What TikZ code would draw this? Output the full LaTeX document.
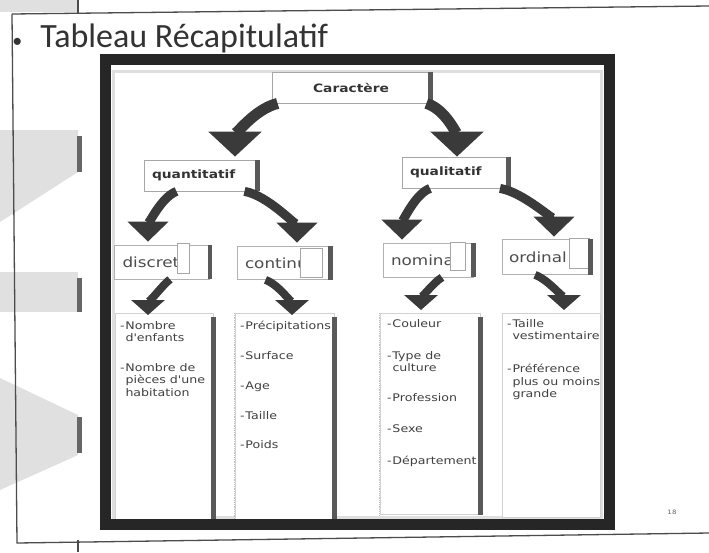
\documentclass[tikz,border=0pt]{standalone}
\usepackage{fontspec}
\setmainfont{DejaVu Sans}
\newfontfamily\titlefont{Carlito}
\newfontfamily\scanfont[FakeStretch=1.2]{DejaVu Sans}
\usetikzlibrary{positioning,arrows.meta}
\definecolor{slidegray}{HTML}{E0E0E0}
\definecolor{arrowgray}{HTML}{3A3A3A}
\newcommand{\dashit}{\makebox[5.5pt][l]{-}}
\newcommand{\indentit}{\hspace*{5.5pt}}
\begin{document}
\begin{tikzpicture}[x=1pt, y=-1pt, thick]
    \tikzstyle{topbox} = [draw=gray!70, fill=white, minimum height=31pt, inner xsep=8pt, font=\scanfont\bfseries\fontsize{11.5}{13}\selectfont, text=black!80]
    \tikzstyle{kind} = [draw=gray!60, fill=white, align=left, inner xsep=8pt, font=\scanfont\fontsize{14}{16}\selectfont, text=black!70]
    \tikzstyle{cursor} = [draw=gray!70, fill=white, inner sep=0pt]
    \tikzstyle{panel} = [draw=gray!35, fill=white, anchor=north]
    \tikzstyle{items} = [anchor=north west, align=left, inner sep=0pt, font=\scanfont\fontsize{10.5}{12.5}\selectfont, text=black!75]
    \tikzstyle{shade} = [line width=4.5pt, draw=black!65]
    \tikzstyle{bigarrow} = [line width=11pt, draw=arrowgray, -{Triangle[length=25pt,width=52pt]}]
    \tikzstyle{midarrow} = [line width=9pt, draw=arrowgray, -{Triangle[length=20pt,width=40pt]}]
    \tikzstyle{lowarrow} = [line width=8pt, draw=arrowgray, -{Triangle[length=15pt,width=33pt]}]

    \useasboundingbox (0,0) rectangle (709,552);
    \fill[white] (0,0) rectangle (709,552);

    % slide background
    \fill[slidegray] (0,0) rectangle (78,12);
    \fill[slidegray] (0,130) -- (78,130) -- (78,172) -- (0,222) -- cycle;
    \fill[slidegray] (0,272) rectangle (78,312);
    \fill[slidegray] (0,378) -- (78,415) -- (78,455) -- (0,490) -- cycle;
    \fill[black!60] (77,136) rectangle (82,172);
    \fill[black!60] (77,278) rectangle (82,312);
    \fill[black!60] (77,417) rectangle (82,453);
    \draw[black!70, line width=1.3pt] (78,0) -- (78,13);
    \draw[black!70, line width=1.3pt] (12,14) -- (709,6);
    \draw[black!70, line width=1.3pt] (12,14) -- (17,543) -- (709,533);
    \draw[black!70, line width=1.3pt] (78,540) -- (78,552);

    \node[anchor=base west, inner sep=0pt, text=black!80, font=\titlefont\fontsize{34}{40}\selectfont] (title) at (12,47) {{\fontsize{20}{20}\selectfont •}\hspace{18pt}Tableau Récapitulatif};
    \node[text=black!60, font=\scanfont\fontsize{6}{7}\selectfont] (page) at (672,512) {18};

    \draw[gray!25, line width=3pt] (113,71) rectangle (601,517);

    \node[topbox, minimum width=158pt] (car) at (351,87.5) {Caractère};
    \node[topbox, minimum width=113pt, text width=97pt, align=left] (quant) at (200.5,175.5) {quantitatif};
    \node[topbox, minimum width=106pt, text width=90pt, align=left] (qual) at (455,172.5) {qualitatif};

    \node[kind, minimum width=95pt, minimum height=34pt, text width=79pt] (disc) at (162,262) {discret};
    \node[kind, minimum width=93pt, minimum height=33pt, text width=77pt] (cont) at (283.5,263) {continu};
    \node[kind, minimum width=90pt, minimum height=34pt, text width=74pt] (nomi) at (428,260) {nominal};
    \node[kind, minimum width=88pt, minimum height=35pt, text width=74pt, inner xsep=6pt] (ordi) at (546,257) {ordinal};
    \node[cursor, minimum width=12pt, minimum height=30pt, left=20pt of disc.east, yshift=4pt] (disc-c) {};
    \node[cursor, minimum width=22pt, minimum height=29pt, left=8pt of cont.east] (cont-c) {};
    \node[cursor, minimum width=15pt, minimum height=28pt, left=8pt of nomi.east, yshift=4pt] (nomi-c) {};
    \node[cursor, minimum width=20pt, minimum height=30pt, left=1pt of ordi.east, yshift=4pt] (ordi-c) {};

    \node[panel, minimum width=98pt, minimum height=207pt] (col1) at (164,313) {};
    \node[panel, minimum width=99pt, minimum height=206pt] (col2) at (284.5,313) {};
    \node[panel, minimum width=100pt, minimum height=201pt] (col3) at (430,313) {};
    \node[panel, minimum width=98pt, minimum height=204pt] (col4) at (551,313) {};
    \draw[gray!50, densely dotted] (col2.north west) -- (col2.south west);
    \draw[gray!50, densely dotted] (col3.north west) -- (col3.south west);

    \node[items] (list1) at ([xshift=5pt, yshift=-8pt]col1.north west) {\dashit Nombre\\ \indentit d'enfants\\[17pt] \dashit Nombre de\\ \indentit pièces d'une\\ \indentit habitation};
    \node[items] (list2) at ([xshift=5pt, yshift=-8pt]col2.north west) {\dashit Précipitations\\[17.5pt] \dashit Surface\\[17.5pt] \dashit Age\\[17pt] \dashit Taille\\[17pt] \dashit Poids};
    \node[items] (list3) at ([xshift=7pt, yshift=-6pt]col3.north west) {\dashit Couleur\\[19.5pt] \dashit Type de\\ \indentit culture\\[17.5pt] \dashit Profession\\[18.5pt] \dashit Sexe\\[19.5pt] \dashit Département};
    \node[items] (list4) at ([xshift=5pt, yshift=-6pt]col4.north west) {\dashit Taille\\ \indentit vestimentaire\\[20.5pt] \dashit Préférence\\ \indentit plus ou moins\\ \indentit grande};

    \draw[shade] (car.north east) -- (car.south east);
    \draw[shade] (quant.north east) -- (quant.south east);
    \draw[shade] (qual.north east) -- (qual.south east);
    \draw[shade] (disc.north east) -- (disc.south east);
    \draw[shade] (cont.north east) -- (cont.south east);
    \draw[shade] (nomi.north east) -- (nomi.south east);
    \draw[shade] (ordi.north east) -- (ordi.south east);
    \draw[shade] ([yshift=-4pt]col1.north east) -- (col1.south east);
    \draw[shade] ([yshift=-4pt]col2.north east) -- (col2.south east);
    \draw[shade] ([yshift=-4pt]col3.north east) -- (col3.south east);

    \draw[bigarrow] ([xshift=6pt]car.south west) .. controls +(-24,6) and +(0,-20) .. ([xshift=34.5pt, yshift=3pt]quant.north);
    \draw[bigarrow] ([xshift=-4pt]car.south east) .. controls +(20,6) and +(0,-20) .. ([xshift=2pt]qual.north);
    \draw[midarrow] ([xshift=-24pt]quant.south) .. controls +(-16,6) and +(0,-15) .. ([xshift=-14pt, yshift=3pt]disc.north);
    \draw[midarrow] ([xshift=44pt]quant.south) .. controls +(24,4) and +(0,-15) .. ([xshift=13.5pt, yshift=3.5pt]cont.north);
    \draw[midarrow] ([xshift=-25pt]qual.south) .. controls +(-16,6) and +(0,-15) .. ([xshift=-26pt, yshift=3pt]nomi.north);
    \draw[midarrow] ([xshift=45pt]qual.south) .. controls +(24,4) and +(0,-15) .. ([xshift=8pt, yshift=2.5pt]ordi.north);
    \draw[lowarrow] ([xshift=8pt]disc.south) .. controls +(-8,6) and +(0,-10) .. ([xshift=-16pt, yshift=-2pt]col1.north);
    \draw[lowarrow] ([xshift=-18pt]cont.south) .. controls +(14,5) and +(0,-10) .. ([xshift=7.5pt, yshift=-2pt]col2.north);
    \draw[lowarrow] ([xshift=14pt]nomi.south) .. controls +(-10,6) and +(0,-10) .. ([xshift=-9pt, yshift=3pt]col3.north);
    \draw[lowarrow] ([xshift=-11pt]ordi.south) .. controls +(14,5) and +(0,-10) .. ([xshift=13pt, yshift=3pt]col4.north);

    % dark outer frame of the table
    \draw[black!85, line width=11pt] (105,59.5) rectangle (609,524);
\end{tikzpicture}
\end{document}
